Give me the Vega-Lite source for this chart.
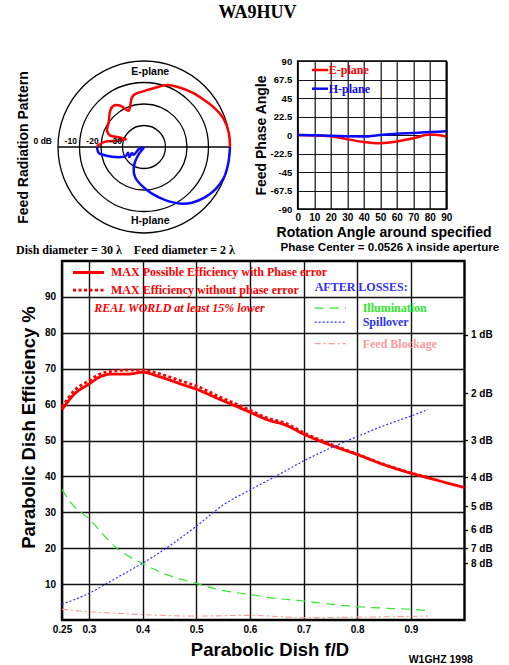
{
  "$schema": "https://vega.github.io/schema/vega-lite/v6.json",
  "padding": {"left": 14, "top": 4, "right": 2, "bottom": 0},
  "title": {"text": "WA9HUV", "font": "Liberation Serif", "fontSize": 18, "fontWeight": "bold", "color": "black", "anchor": "middle", "offset": 33},
  "spacing": 0,
  "resolve": {"scale": {"color": "independent", "strokeDash": "independent", "radius": "independent"}},
  "datasets": {
    "eff": [
      {"s":"phase","fd":0.25,"eff":58.6},{"s":"phase","fd":0.2735,"eff":63.0},{"s":"phase","fd":0.30,"eff":65.7},{"s":"phase","fd":0.3216,"eff":67.8},{"s":"phase","fd":0.343,"eff":68.5},{"s":"phase","fd":0.374,"eff":68.5},{"s":"phase","fd":0.40,"eff":69.0},{"s":"phase","fd":0.431,"eff":67.8},{"s":"phase","fd":0.474,"eff":65.6},{"s":"phase","fd":0.5,"eff":64.3},{"s":"phase","fd":0.542,"eff":61.6},{"s":"phase","fd":0.6,"eff":57.9},{"s":"phase","fd":0.634,"eff":55.7},{"s":"phase","fd":0.665,"eff":54.4},{"s":"phase","fd":0.7,"eff":51.8},{"s":"phase","fd":0.752,"eff":48.6},{"s":"phase","fd":0.8,"eff":46.1},{"s":"phase","fd":0.851,"eff":43.2},{"s":"phase","fd":0.9,"eff":40.9},{"s":"phase","fd":0.932,"eff":39.6},{"s":"phase","fd":1.0,"eff":36.9},
      {"s":"nophase","fd":0.25,"eff":59.3},{"s":"nophase","fd":0.2735,"eff":64.0},{"s":"nophase","fd":0.30,"eff":66.6},{"s":"nophase","fd":0.3216,"eff":68.6},{"s":"nophase","fd":0.35,"eff":69.4},{"s":"nophase","fd":0.374,"eff":69.6},{"s":"nophase","fd":0.40,"eff":69.6},{"s":"nophase","fd":0.431,"eff":68.6},{"s":"nophase","fd":0.474,"eff":66.5},{"s":"nophase","fd":0.5,"eff":65.2},{"s":"nophase","fd":0.542,"eff":62.3},{"s":"nophase","fd":0.6,"eff":58.5},{"s":"nophase","fd":0.634,"eff":56.2},{"s":"nophase","fd":0.665,"eff":54.9},{"s":"nophase","fd":0.7,"eff":52.2},{"s":"nophase","fd":0.752,"eff":48.9},{"s":"nophase","fd":0.8,"eff":46.2},{"s":"nophase","fd":0.851,"eff":43.3},{"s":"nophase","fd":0.9,"eff":41.0},{"s":"nophase","fd":0.932,"eff":39.7},
      {"s":"illum","fd":0.25,"eff":36.4},{"s":"illum","fd":0.2655,"eff":32.9},{"s":"illum","fd":0.30,"eff":28.2},{"s":"illum","fd":0.349,"eff":20.4},{"s":"illum","fd":0.40,"eff":15.7},{"s":"illum","fd":0.448,"eff":12.5},{"s":"illum","fd":0.5,"eff":10.2},{"s":"illum","fd":0.547,"eff":8.3},{"s":"illum","fd":0.6,"eff":7.1},{"s":"illum","fd":0.65,"eff":6.0},{"s":"illum","fd":0.7,"eff":5.3},{"s":"illum","fd":0.75,"eff":4.4},{"s":"illum","fd":0.8,"eff":3.7},{"s":"illum","fd":0.85,"eff":3.3},{"s":"illum","fd":0.9,"eff":3.0},{"s":"illum","fd":0.932,"eff":2.6},
      {"s":"spill","fd":0.25,"eff":4.4},{"s":"spill","fd":0.30,"eff":7.4},{"s":"spill","fd":0.35,"eff":11.6},{"s":"spill","fd":0.40,"eff":15.8},{"s":"spill","fd":0.45,"eff":20.6},{"s":"spill","fd":0.5,"eff":26.1},{"s":"spill","fd":0.55,"eff":32.0},{"s":"spill","fd":0.6,"eff":36.2},{"s":"spill","fd":0.6455,"eff":39.8},{"s":"spill","fd":0.7,"eff":44.3},{"s":"spill","fd":0.752,"eff":48.0},{"s":"spill","fd":0.8,"eff":51.1},{"s":"spill","fd":0.851,"eff":54.2},{"s":"spill","fd":0.9,"eff":56.8},{"s":"spill","fd":0.932,"eff":58.6},
      {"s":"block","fd":0.25,"eff":3.0},{"s":"block","fd":0.30,"eff":2.3},{"s":"block","fd":0.35,"eff":1.9},{"s":"block","fd":0.40,"eff":1.5},{"s":"block","fd":0.5,"eff":1.1},{"s":"block","fd":0.6,"eff":1.3},{"s":"block","fd":0.7,"eff":0.65},{"s":"block","fd":0.8,"eff":0.8},{"s":"block","fd":0.9,"eff":1.0},{"s":"block","fd":0.932,"eff":1.1}
    ],
    "samples": [
      {"s":"phase","fd":0.2705,"fd2":0.3283,"eff":96.8},
      {"s":"nophase","fd":0.2705,"fd2":0.3283,"eff":91.9},
      {"s":"illum","fd":0.7208,"fd2":0.7792,"eff":86.9},
      {"s":"spill","fd":0.7208,"fd2":0.7792,"eff":83.0},
      {"s":"block","fd":0.7208,"fd2":0.7792,"eff":77.0}
    ],
    "notes": [
      {"t":"MAX Possible Efficiency with Phase error","s":"phase","fd":0.3413,"eff":96.8},
      {"t":"MAX Efficiency without phase error","s":"nophase","fd":0.3413,"eff":91.9},
      {"t":"AFTER LOSSES:","s":"spill","fd":0.7208,"eff":92.8},
      {"t":"Illumination","s":"illum","fd":0.8103,"eff":86.9},
      {"t":"Spillover","s":"spill","fd":0.8103,"eff":83.0},
      {"t":"Feed Blockage","s":"block","fd":0.8103,"eff":77.0}
    ],
    "pattern": [
      {"plane":"E-plane","i":0,"ux":40,"uy":0},{"plane":"E-plane","i":1,"ux":39.4,"uy":6.8},{"plane":"E-plane","i":2,"ux":37.1,"uy":13.0},{"plane":"E-plane","i":3,"ux":33.2,"uy":17.7},{"plane":"E-plane","i":4,"ux":28.5,"uy":21.5},{"plane":"E-plane","i":5,"ux":22.3,"uy":25.4},{"plane":"E-plane","i":6,"ux":16.1,"uy":27.8},{"plane":"E-plane","i":7,"ux":10.7,"uy":28.8},{"plane":"E-plane","i":8,"ux":6.0,"uy":27.8},{"plane":"E-plane","i":9,"ux":0.6,"uy":26.2},{"plane":"E-plane","i":10,"ux":-4.0,"uy":24.7},{"plane":"E-plane","i":11,"ux":-5.6,"uy":23.1},{"plane":"E-plane","i":12,"ux":-6.4,"uy":19.2},{"plane":"E-plane","i":13,"ux":-7.1,"uy":16.9},{"plane":"E-plane","i":14,"ux":-8.7,"uy":17.7},{"plane":"E-plane","i":15,"ux":-11.0,"uy":19.2},{"plane":"E-plane","i":16,"ux":-14.1,"uy":19.2},{"plane":"E-plane","i":17,"ux":-15.7,"uy":16.9},{"plane":"E-plane","i":18,"ux":-16.4,"uy":11.5},{"plane":"E-plane","i":19,"ux":-17.2,"uy":7.6},{"plane":"E-plane","i":20,"ux":-15.7,"uy":5.3},{"plane":"E-plane","i":21,"ux":-11.8,"uy":4.5},{"plane":"E-plane","i":22,"ux":-8.4,"uy":3.5},{"plane":"E-plane","i":23,"ux":-11.8,"uy":2.9},{"plane":"E-plane","i":24,"ux":-18.0,"uy":2.5},{"plane":"E-plane","i":25,"ux":-21.1,"uy":0.9},{"plane":"E-plane","i":26,"ux":-21.9,"uy":0},
      {"plane":"H-plane","i":0,"ux":40,"uy":0},{"plane":"H-plane","i":1,"ux":39.1,"uy":-8.0},{"plane":"H-plane","i":2,"ux":37.1,"uy":-14.3},{"plane":"H-plane","i":3,"ux":33.2,"uy":-19.7},{"plane":"H-plane","i":4,"ux":28.5,"uy":-23.3},{"plane":"H-plane","i":5,"ux":22.3,"uy":-25.9},{"plane":"H-plane","i":6,"ux":17.7,"uy":-26.4},{"plane":"H-plane","i":7,"ux":9.9,"uy":-24.7},{"plane":"H-plane","i":8,"ux":3.7,"uy":-21.7},{"plane":"H-plane","i":9,"ux":-0.9,"uy":-18.1},{"plane":"H-plane","i":10,"ux":-4.0,"uy":-14.3},{"plane":"H-plane","i":11,"ux":-4.8,"uy":-11.2},{"plane":"H-plane","i":12,"ux":-4.3,"uy":-7.3},{"plane":"H-plane","i":13,"ux":-2.5,"uy":-3.4},{"plane":"H-plane","i":14,"ux":-0.1,"uy":-0.2},{"plane":"H-plane","i":15,"ux":-2.5,"uy":-1.1},{"plane":"H-plane","i":16,"ux":-4.8,"uy":-3.7},{"plane":"H-plane","i":17,"ux":-5.6,"uy":-2.8},{"plane":"H-plane","i":18,"ux":-6.8,"uy":-4.7},{"plane":"H-plane","i":19,"ux":-7.4,"uy":-2.7},{"plane":"H-plane","i":20,"ux":-8.7,"uy":-4.4},{"plane":"H-plane","i":21,"ux":-11.0,"uy":-4.7},{"plane":"H-plane","i":22,"ux":-14.9,"uy":-4.5},{"plane":"H-plane","i":23,"ux":-18.7,"uy":-3.7},{"plane":"H-plane","i":24,"ux":-21.1,"uy":-2.7},{"plane":"H-plane","i":25,"ux":-21.9,"uy":0}
    ],
    "phase": [
      {"plane":"E-plane","deg":0,"ph":0},{"plane":"E-plane","deg":10,"ph":-0.5},{"plane":"E-plane","deg":20,"ph":-1.5},{"plane":"E-plane","deg":30,"ph":-5},{"plane":"E-plane","deg":40,"ph":-8.5},{"plane":"E-plane","deg":50,"ph":-10},{"plane":"E-plane","deg":60,"ph":-8},{"plane":"E-plane","deg":70,"ph":-4},{"plane":"E-plane","deg":80,"ph":0.5},{"plane":"E-plane","deg":85,"ph":0},{"plane":"E-plane","deg":90,"ph":-2},
      {"plane":"H-plane","deg":0,"ph":0},{"plane":"H-plane","deg":10,"ph":-0.3},{"plane":"H-plane","deg":20,"ph":-1},{"plane":"H-plane","deg":30,"ph":-1.5},{"plane":"H-plane","deg":40,"ph":-1.8},{"plane":"H-plane","deg":50,"ph":0},{"plane":"H-plane","deg":60,"ph":1.5},{"plane":"H-plane","deg":70,"ph":2.5},{"plane":"H-plane","deg":80,"ph":3.5},{"plane":"H-plane","deg":90,"ph":4.5}
    ]
  },
  "vconcat": [
    {
      "bounds": "flush",
      "spacing": 71.7,
      "hconcat": [
        {
          "width": 164,
          "height": 172,
          "view": {"stroke": null},
          "layer": [
            {
              "data": {"values": [{"r": 10}, {"r": 20}, {"r": 30}, {"r": 40}]},
              "mark": {"type": "arc", "theta": 0, "theta2": 6.2832, "filled": false, "stroke": "black", "strokeWidth": 1.3},
              "encoding": {"radius": {"field": "r", "type": "quantitative", "stack": null, "scale": {"type": "linear", "domain": [0, 40], "range": [0, 86]}}}
            },
            {
              "data": {"values": [{"ux": -40, "ux2": 40, "uy": 0}]},
              "mark": {"type": "rule", "stroke": "black", "strokeWidth": 1.3},
              "encoding": {
                "x": {"field": "ux", "type": "quantitative", "scale": {"domain": [-38.14, 38.14], "nice": false}, "axis": null},
                "x2": {"field": "ux2"},
                "y": {"field": "uy", "type": "quantitative", "scale": {"domain": [-40, 40], "nice": false}, "axis": {"title": "Feed Radiation Pattern", "labels": false, "ticks": false, "domain": false, "grid": false, "titlePadding": 32, "titleFontSize": 14}}
              }
            },
            {
              "data": {"name": "pattern"},
              "mark": {"type": "line", "strokeWidth": 2.5, "interpolate": "catmull-rom"},
              "encoding": {
                "x": {"field": "ux", "type": "quantitative", "scale": {"domain": [-38.14, 38.14], "nice": false}, "axis": null},
                "y": {"field": "uy", "type": "quantitative", "scale": {"domain": [-40, 40], "nice": false}, "axis": {"title": "Feed Radiation Pattern", "labels": false, "ticks": false, "domain": false, "grid": false, "titlePadding": 32, "titleFontSize": 14}},
                "order": {"field": "i", "type": "quantitative"},
                "color": {"field": "plane", "type": "nominal", "scale": {"domain": ["E-plane", "H-plane"], "range": ["#ff0000", "#0a0aff"]}, "legend": null}
              }
            },
            {
              "data": {"values": [{"lab": "0 dB", "ux": -42.8, "uy": 0}, {"lab": "-10", "ux": -31.2, "uy": 0}, {"lab": "-20", "ux": -21.1, "uy": 0}, {"lab": "-30", "ux": -10.2, "uy": 0}]},
              "mark": {"type": "text", "align": "right", "baseline": "bottom", "dy": -1, "font": "Liberation Sans", "fontWeight": "bold", "fontSize": 8.5, "color": "black"},
              "encoding": {
                "x": {"field": "ux", "type": "quantitative", "scale": {"domain": [-38.14, 38.14], "nice": false}, "axis": null},
                "y": {"field": "uy", "type": "quantitative", "scale": {"domain": [-40, 40], "nice": false}, "axis": {"title": "Feed Radiation Pattern", "labels": false, "ticks": false, "domain": false, "grid": false, "titlePadding": 32, "titleFontSize": 14}},
                "text": {"field": "lab"}
              }
            },
            {
              "data": {"values": [{"lab": "E-plane", "ux": 2.9, "uy": 34.7}, {"lab": "H-plane", "ux": 2.9, "uy": -34.6}]},
              "mark": {"type": "text", "align": "center", "baseline": "middle", "font": "Liberation Sans", "fontWeight": "bold", "fontSize": 10.5, "color": "black"},
              "encoding": {
                "x": {"field": "ux", "type": "quantitative", "scale": {"domain": [-38.14, 38.14], "nice": false}, "axis": null},
                "y": {"field": "uy", "type": "quantitative", "scale": {"domain": [-40, 40], "nice": false}, "axis": {"title": "Feed Radiation Pattern", "labels": false, "ticks": false, "domain": false, "grid": false, "titlePadding": 32, "titleFontSize": 14}},
                "text": {"field": "lab"}
              }
            }
          ]
        },
        {
          "width": 148.6,
          "height": 148,
          "view": {"stroke": "black", "strokeWidth": 1.6},
          "encoding": {
            "x": {"field": "deg", "type": "quantitative", "scale": {"domain": [0, 90], "nice": false, "zero": false},
                  "axis": {"values": [0,10,20,30,40,50,60,70,80,90], "title": "Rotation Angle around specified", "titleFontSize": 14, "titleX": 85.8, "titlePadding": 3, "labelFontSize": 10, "labelPadding": 3.5, "labelFlush": false, "grid": true, "gridWidth": 1.2}},
            "y": {"field": "ph", "type": "quantitative", "scale": {"domain": [-90, 90], "nice": false},
                  "axis": {"values": [-90,-67.5,-45,-22.5,0,22.5,45,67.5,90], "labelExpr": "replace(format(datum.value, '.1~f'), '\u2212', '-')", "title": "Feed Phase Angle", "titleFontSize": 14, "titlePadding": 2, "labelFontSize": 9.5, "labelPadding": 6, "labelFlush": false, "grid": true, "gridWidth": 1.2}}
          },
          "layer": [
            {
              "data": {"name": "phase"},
              "mark": {"type": "line", "strokeWidth": 2.5, "interpolate": "monotone"},
              "encoding": {"color": {"field": "plane", "type": "nominal", "scale": {"domain": ["E-plane", "H-plane"], "range": ["#ff0000", "#0a0aff"]}, "legend": null}}
            },
            {
              "data": {"values": [{"plane": "E-plane", "deg": 8.66, "deg2": 18.35, "ph": 79.05}, {"plane": "H-plane", "deg": 8.66, "deg2": 18.35, "ph": 56.3}]},
              "mark": {"type": "rule", "strokeWidth": 2.5},
              "encoding": {"x2": {"field": "deg2"}, "color": {"field": "plane", "type": "nominal", "scale": {"domain": ["E-plane", "H-plane"], "range": ["#ff0000", "#0a0aff"]}, "legend": null}}
            },
            {
              "data": {"values": [{"plane": "E-plane", "deg": 18.8, "ph": 79.05}, {"plane": "H-plane", "deg": 18.8, "ph": 56.3}]},
              "mark": {"type": "text", "align": "left", "baseline": "middle", "font": "Liberation Serif", "fontWeight": "bold", "fontSize": 12},
              "encoding": {"text": {"field": "plane"}, "color": {"field": "plane", "type": "nominal", "scale": {"domain": ["E-plane", "H-plane"], "range": ["#ff0000", "#0a0aff"]}, "legend": null}}
            }
          ]
        }
      ]
    },
    {
      "width": 402.5,
      "height": 359,
      "view": {"stroke": "black", "strokeWidth": 2.4},
      "encoding": {
        "x": {"field": "fd", "type": "quantitative", "scale": {"domain": [0.25, 1.0], "nice": false, "zero": false},
              "axis": {"values": [0.25,0.3,0.4,0.5,0.6,0.7,0.8,0.9], "format": ".2~f", "title": "Parabolic Dish f/D", "titleFontSize": 18.5, "titleX": 207.5, "titlePadding": 6.5, "labelFontSize": 10, "labelPadding": 4, "labelFlush": false, "grid": true, "gridWidth": 1.4}}
      },
      "layer": [
        {
          "encoding": {
            "y": {"field": "eff", "type": "quantitative", "scale": {"domain": [0, 100], "nice": false},
                  "axis": {"values": [10,20,30,40,50,60,70,80,90], "title": "Parabolic Dish Efficiency %", "titleFontSize": 18.5, "titlePadding": 5.5, "titleY": 166, "labelFontSize": 10, "labelPadding": 6.5, "labelFlush": false, "grid": true, "gridWidth": 1.4}}
          },
          "layer": [
            {
              "data": {"name": "eff"},
              "transform": [{"filter": "datum.s == 'phase' || datum.s == 'nophase'"}],
              "mark": {"type": "line", "strokeWidth": 2.8, "interpolate": "monotone", "strokeCap": "butt"},
              "encoding": {
                "color": {"field": "s", "type": "nominal", "scale": {"domain": ["phase","nophase","illum","spill","block"], "range": ["#ff0000","#ff0000","#2ee82e","#3030ff","#ff9a9a"]}, "legend": null},
                "strokeDash": {"field": "s", "type": "nominal", "scale": {"domain": ["phase","nophase","illum","spill","block"], "range": [[1,0],[3,2.5],[9,6],[2,2],[6,3,2,3]]}, "legend": null}
              }
            },
            {
              "data": {"name": "eff"},
              "transform": [{"filter": "datum.s == 'illum' || datum.s == 'spill'"}],
              "mark": {"type": "line", "strokeWidth": 1.2, "interpolate": "monotone", "strokeCap": "butt"},
              "encoding": {
                "color": {"field": "s", "type": "nominal", "scale": {"domain": ["phase","nophase","illum","spill","block"], "range": ["#ff0000","#ff0000","#2ee82e","#3030ff","#ff9a9a"]}, "legend": null},
                "strokeDash": {"field": "s", "type": "nominal", "scale": {"domain": ["phase","nophase","illum","spill","block"], "range": [[1,0],[3,2.5],[9,6],[2,2],[6,3,2,3]]}, "legend": null}
              }
            },
            {
              "data": {"name": "samples"},
              "transform": [{"filter": "datum.s == 'phase' || datum.s == 'nophase'"}],
              "mark": {"type": "rule", "strokeWidth": 2.8, "strokeCap": "butt"},
              "encoding": {
                "x2": {"field": "fd2"},
                "color": {"field": "s", "type": "nominal", "scale": {"domain": ["phase","nophase","illum","spill","block"], "range": ["#ff0000","#ff0000","#2ee82e","#3030ff","#ff9a9a"]}, "legend": null},
                "strokeDash": {"field": "s", "type": "nominal", "scale": {"domain": ["phase","nophase","illum","spill","block"], "range": [[1,0],[3,2.5],[9,6],[2,2],[6,3,2,3]]}, "legend": null}
              }
            },
            {
              "data": {"name": "samples"},
              "transform": [{"filter": "datum.s != 'phase' && datum.s != 'nophase'"}],
              "mark": {"type": "rule", "strokeWidth": 1.2, "strokeCap": "butt"},
              "encoding": {
                "x2": {"field": "fd2"},
                "color": {"field": "s", "type": "nominal", "scale": {"domain": ["phase","nophase","illum","spill","block"], "range": ["#ff0000","#ff0000","#2ee82e","#3030ff","#ff9a9a"]}, "legend": null},
                "strokeDash": {"field": "s", "type": "nominal", "scale": {"domain": ["phase","nophase","illum","spill","block"], "range": [[1,0],[3,2.5],[9,6],[2,2],[6,3,2,3]]}, "legend": null}
              }
            },
            {
              "data": {"name": "notes"},
              "mark": {"type": "text", "align": "left", "baseline": "middle", "font": "Liberation Serif", "fontWeight": "bold", "fontSize": 12},
              "encoding": {
                "text": {"field": "t"},
                "color": {"field": "s", "type": "nominal", "scale": {"domain": ["phase","nophase","illum","spill","block"], "range": ["#ff0000","#ff0000","#2ee82e","#3030ff","#ff9a9a"]}, "legend": null}
              }
            },
            {
              "data": {"values": [{"t": "REAL WORLD at least 15% lower", "fd": 0.3102, "eff": 86.9}]},
              "mark": {"type": "text", "align": "left", "baseline": "middle", "font": "Liberation Serif", "fontWeight": "bold", "fontStyle": "italic", "fontSize": 12, "color": "#ff0000"},
              "encoding": {"text": {"field": "t"}}
            },
            {
              "data": {"values": [{"t": "Dish diameter = 30 λ\u00a0\u00a0\u00a0\u00a0Feed diameter = 2 λ", "fd": 0.1643, "eff": 103.2}]},
              "mark": {"type": "text", "align": "left", "baseline": "middle", "font": "Liberation Serif", "fontWeight": "bold", "fontSize": 12, "color": "black"},
              "encoding": {"text": {"field": "t"}}
            },
            {
              "data": {"values": [{"t": "Phase Center = 0.0526 λ inside aperture", "fd": 0.8608, "eff": 103.5}]},
              "mark": {"type": "text", "align": "center", "baseline": "middle", "font": "Liberation Sans", "fontWeight": "bold", "fontSize": 11.6, "color": "black"},
              "encoding": {"text": {"field": "t"}}
            },
            {
              "data": {"values": [{"t": "W1GHZ 1998", "fd": 0.896, "eff": -11.2}]},
              "mark": {"type": "text", "align": "left", "baseline": "middle", "font": "Liberation Sans", "fontWeight": "bold", "fontSize": 10.5, "color": "black"},
              "encoding": {"text": {"field": "t"}}
            }
          ]
        },
        {
          "data": {"name": "eff"},
          "transform": [{"filter": "datum.s == 'block'"}],
          "mark": {"type": "line", "strokeWidth": 1.1, "interpolate": "monotone", "strokeCap": "butt"},
          "encoding": {
            "y": {"field": "eff", "type": "quantitative", "scale": {"domain": [0, 100], "nice": false},
                  "axis": {"orient": "right", "values": [79.43,63.1,50.12,39.81,31.62,25.12,19.95,15.85], "labelExpr": "round(-10*log(datum.value/100)/LN10) + ' dB'", "title": null, "ticks": true, "tickSize": 3, "tickWidth": 1.3, "labelPadding": 3, "grid": false, "labelFontSize": 10, "labelFlush": false}},
            "color": {"field": "s", "type": "nominal", "scale": {"domain": ["phase","nophase","illum","spill","block"], "range": ["#ff0000","#ff0000","#2ee82e","#3030ff","#ff9a9a"]}, "legend": null},
            "strokeDash": {"field": "s", "type": "nominal", "scale": {"domain": ["phase","nophase","illum","spill","block"], "range": [[1,0],[3,2.5],[9,6],[2,2],[6,3,2,3]]}, "legend": null}
          }
        }
      ],
      "resolve": {"scale": {"y": "independent"}, "axis": {"y": "independent"}}
    }
  ],
  "config": {
    "view": {"stroke": null},
    "axis": {"labelFont": "Liberation Sans", "labelFontWeight": "bold", "labelColor": "black", "labelFontSize": 10, "titleFont": "Liberation Sans", "titleFontWeight": "bold", "titleColor": "black", "gridColor": "#111111", "gridOpacity": 1, "domain": false, "ticks": false, "tickColor": "black"}
  }
}
